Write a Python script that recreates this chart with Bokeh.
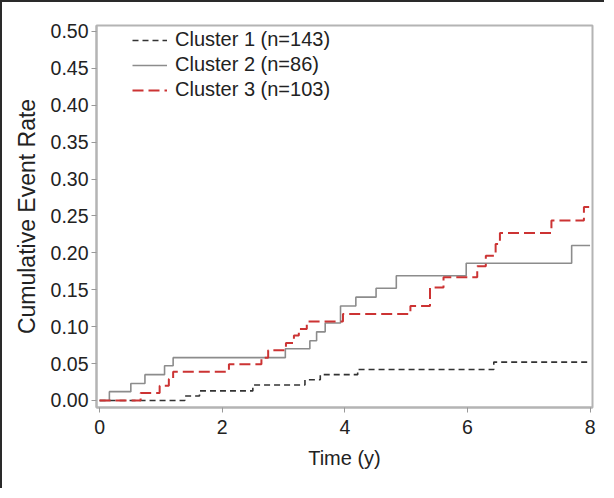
from bokeh.plotting import figure
from bokeh.models import Legend, LegendItem, FixedTicker, Range1d, CustomJSTickFormatter
from bokeh.embed import file_html
from bokeh.resources import INLINE

# Cumulative event rate step curves (time in years, value after the jump)
c1_time = [0, 1.39, 1.63, 2.50, 3.35, 3.60, 4.21, 6.43, 8.0]
c1_rate = [0, 0.006, 0.013, 0.021, 0.028, 0.035, 0.042, 0.052, 0.052]

c2_time = [0, 0.16, 0.51, 0.74, 1.06, 1.20, 3.03, 3.43, 3.54, 3.68, 3.93, 4.18, 4.51, 4.84, 5.98, 7.70, 8.0]
c2_rate = [0, 0.012, 0.023, 0.035, 0.047, 0.058, 0.070, 0.081, 0.093, 0.105, 0.128, 0.140, 0.152, 0.169, 0.186, 0.210, 0.210]

c3_time = [0, 0.67, 0.98, 1.13, 1.20, 2.11, 2.64, 2.75, 3.04, 3.17, 3.25, 3.38, 3.97, 5.07, 5.39, 5.61, 6.16, 6.30, 6.46, 6.53, 7.37, 7.90, 8.0]
c3_rate = [0, 0.010, 0.020, 0.029, 0.039, 0.049, 0.058, 0.068, 0.078, 0.088, 0.097, 0.107, 0.117, 0.128, 0.153, 0.167, 0.182, 0.196, 0.212, 0.227, 0.244, 0.262, 0.262]

labels = ["Cluster 1 (n=143)", "Cluster 2 (n=86)", "Cluster 3 (n=103)"]
x_ticks = [0, 2, 4, 6, 8]
y_ticks = [0.00, 0.05, 0.10, 0.15, 0.20, 0.25, 0.30, 0.35, 0.40, 0.45, 0.50]

FONT = "Liberation Sans"

p = figure(width=604, height=488, output_backend="svg", toolbar_location=None,
           x_range=Range1d(-0.05, 8.04), y_range=Range1d(-0.0095, 0.508),
           min_border_left=94, min_border_top=23, min_border_right=14, min_border_bottom=83)
p.styles = {"border-left": "2px solid #2a2a2a", "border-top": "2px solid #2a2a2a"}

p.grid.visible = False
p.outline_line_color = "#b4b4b4"
p.outline_line_width = 2

r1 = p.step(c1_time, c1_rate, mode="after", line_color="#333333", line_width=1.6, line_dash="6 4")
r2 = p.step(c2_time, c2_rate, mode="after", line_color="#8c8c8c", line_width=1.6)
r3 = p.step(c3_time, c3_rate, mode="after", line_color="#cc3333", line_width=2, line_dash="11 5")

for ax in (p.xaxis[0], p.yaxis[0]):
    ax.axis_line_color = "#b4b4b4"
    ax.axis_line_width = 2
    ax.major_tick_line_color = "#999999"
    ax.major_tick_in = 0
    ax.major_tick_out = 5
    ax.minor_tick_line_color = None
    ax.major_label_text_font = FONT
    ax.major_label_text_font_size = "19.5px"
    ax.major_label_text_color = "#222222"
    ax.axis_label_text_font = FONT
    ax.axis_label_text_font_style = "normal"
    ax.axis_label_text_color = "#222222"

p.xaxis.axis_label_text_font_size = "20px"
p.yaxis.axis_label_text_font_size = "23px"
p.xaxis.ticker = FixedTicker(ticks=x_ticks)
p.yaxis.ticker = FixedTicker(ticks=y_ticks)
p.yaxis.formatter = CustomJSTickFormatter(code="return tick.toFixed(2);")
p.xaxis.axis_label = "Time (y)"
p.yaxis.axis_label = "Cumulative Event Rate"
p.xaxis.major_label_standoff = 7
p.yaxis.major_label_standoff = 3
p.xaxis.axis_label_standoff = 10
p.yaxis.axis_label_standoff = 8

legend = Legend(items=[LegendItem(label=labels[0], renderers=[r1]),
                       LegendItem(label=labels[1], renderers=[r2]),
                       LegendItem(label=labels[2], renderers=[r3])],
                location=(36, 306), border_line_color=None, background_fill_alpha=0,
                glyph_width=35, glyph_height=20, label_height=20, spacing=2,
                padding=5, margin=0, label_standoff=8,
                label_text_font=FONT, label_text_font_size="20px", label_text_color="#222222")
p.add_layout(legend)

open("out.html", "w").write(file_html(p, INLINE))
